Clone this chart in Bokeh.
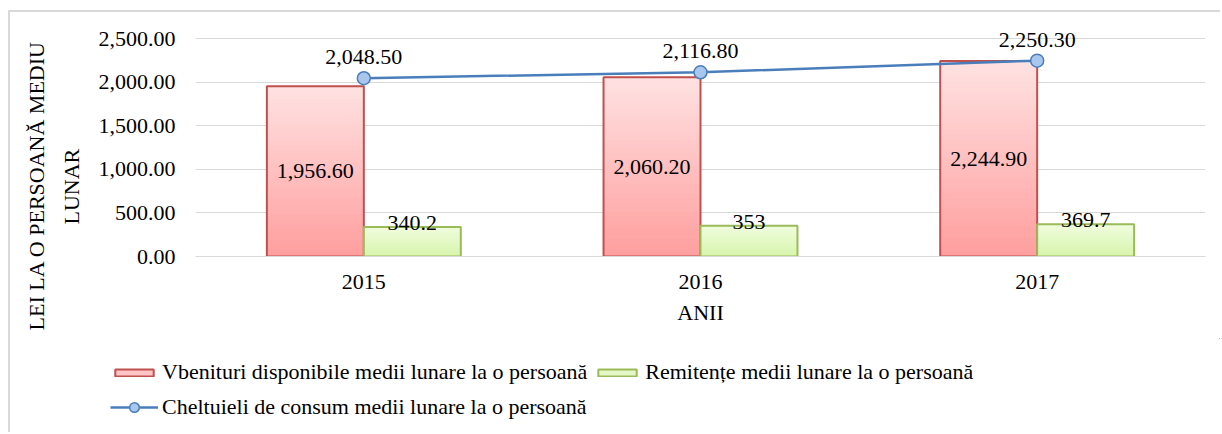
import numpy as np
from bokeh.plotting import figure
from bokeh.layouts import column
from bokeh.models import (ColumnDataSource, NumeralTickFormatter, Legend, LegendItem,
                          FactorRange, FixedTicker, Range1d, Title)
from bokeh.transform import dodge
from bokeh.core.properties import value
from bokeh.embed import file_html
from bokeh.resources import INLINE

# ---- data ----
years = ["2015", "2016", "2017"]
venituri = [1956.6, 2060.2, 2244.9]
remitente = [340.2, 353.0, 369.7]
cheltuieli = [2048.5, 2116.8, 2250.3]
venituri_labels = ["1,956.60", "2,060.20", "2,244.90"]
remitente_labels = ["340.2", "353", "369.7"]
cheltuieli_labels = ["2,048.50", "2,116.80", "2,250.30"]
y_ticks = [0, 500, 1000, 1500, 2000, 2500]
series_names = ["Vbenituri disponibile medii lunare la o persoană",
                "Remitențe medii lunare la o persoană",
                "Cheltuieli de consum medii lunare la o persoană"]
y_title_lines = ["LEI LA O PERSOANĂ MEDIU", "LUNAR"]
x_title = "ANII"

FONT = "Liberation Serif"
FS = "22px"
BW = 0.288
RED_LINE, GREEN_LINE, BLUE_LINE = "#c0504d", "#9bbb59", "#4a7ebb"
RED_FILL, GREEN_FILL, BLUE_FILL = "#ffc4c4", "#e3f8c6", "#a9c6ec"

p = figure(x_range=FactorRange(factors=years, range_padding=0), y_range=Range1d(0, 2700),
           width=1210, height=326, output_backend="svg", toolbar_location=None,
           min_border_left=185, min_border_right=15, min_border_top=9, min_border_bottom=82)
p.outline_line_color = None
p.xgrid.grid_line_color = None
p.ygrid.grid_line_color = "#d9d9d9"
p.ygrid.grid_line_width = 1.2

p.yaxis.ticker = FixedTicker(ticks=y_ticks)
p.yaxis.formatter = NumeralTickFormatter(format="0,0.00")
p.yaxis.axis_line_color = None
p.yaxis.major_tick_line_color = None
p.yaxis.minor_tick_line_color = None
p.yaxis.major_tick_out = 0
p.yaxis.major_label_standoff = 20

p.xaxis.axis_line_color = "#d9d9d9"
p.xaxis.major_tick_line_color = None
p.xaxis.minor_tick_line_color = None
p.xaxis.major_tick_out = 0
p.xaxis.major_label_standoff = 18
p.xaxis.axis_label = x_title
p.xaxis.axis_label_standoff = 8
for ax in (p.xaxis[0], p.yaxis[0]):
    ax.major_label_text_font = FONT
    ax.major_label_text_font_size = FS
    ax.major_label_text_color = "black"
    ax.axis_label_text_font = FONT
    ax.axis_label_text_font_size = FS
    ax.axis_label_text_font_style = "normal"
    ax.axis_label_text_color = "black"

# y-axis title: two rotated lines, both centred below the frame centre
for txt, so, off in ((y_title_lines[1], 23, 32), (y_title_lines[0], -6, -74)):
    p.add_layout(Title(text=txt, align="left", offset=off, standoff=so,
                       text_font=FONT, text_font_size=FS, text_font_style="normal",
                       text_color="black"), "left")


def lerp(c1, c2, t):
    return "#%02x%02x%02x" % tuple(int(round(a + (b - a) * t)) for a, b in zip(c1, c2))


def gradient_bars(vals, offset, c_bottom, c_top, line_color):
    src = ColumnDataSource(dict(x=years, top=vals))
    N = 40
    xs, tops, cols = [], [], []
    for k in reversed(range(N)):
        for yr, v in zip(years, vals):
            xs.append(yr)
            tops.append(v * (k + 1) / N)
            cols.append(lerp(c_bottom, c_top, (k + 0.5) / N))
    gsrc = ColumnDataSource(dict(x=xs, top=tops, color=cols))
    p.vbar(x=dodge("x", offset, range=p.x_range), top="top", bottom=0, width=BW,
           source=gsrc, fill_color="color", line_color=None)
    p.vbar(x=dodge("x", offset, range=p.x_range), top="top", bottom=0, width=BW, source=src,
           fill_alpha=0, line_color=line_color, line_width=2)


gradient_bars(venituri, -BW / 2, (255, 158, 158), (255, 226, 226), RED_LINE)
gradient_bars(remitente, BW / 2, (215, 245, 172), (240, 252, 222), GREEN_LINE)

lsrc = ColumnDataSource(dict(x=years, y=cheltuieli, lab=cheltuieli_labels))
p.line(x="x", y="y", source=lsrc, line_color=BLUE_LINE, line_width=2.5)
p.scatter(x="x", y="y", source=lsrc, size=13, fill_color=BLUE_FILL,
          line_color=BLUE_LINE, line_width=1.5)

# data labels
vsrc = ColumnDataSource(dict(x=years, y=[v / 2 for v in venituri], lab=venituri_labels))
p.text(x=dodge("x", -BW / 2, range=p.x_range), y="y", text="lab", source=vsrc,
       text_font=value(FONT), text_font_size=FS, text_align="center", text_baseline="middle",
       text_color="black")
rsrc = ColumnDataSource(dict(x=years, y=remitente, lab=remitente_labels))
p.text(x=dodge("x", BW / 2, range=p.x_range), y="y", text="lab", source=rsrc,
       text_font=value(FONT), text_font_size=FS, text_align="center", text_baseline="middle",
       y_offset=-4, text_color="black")
p.text(x="x", y="y", text="lab", source=lsrc,
       text_font=value(FONT), text_font_size=FS, text_align="center", text_baseline="middle",
       y_offset=-21, text_color="black")

# ---- legend figure (proxy glyphs lie outside its visible range) ----
q = figure(width=1210, height=94, output_backend="svg", toolbar_location=None,
           x_range=Range1d(-2, -1), y_range=Range1d(-2, -1),
           min_border_left=0, min_border_right=0, min_border_top=0, min_border_bottom=0)
if "frame_align" in q.properties():
    q.frame_align = False
q.axis.visible = False
q.grid.visible = False
q.outline_line_color = None
idx = list(range(len(years)))
r_red = q.vbar(x=idx, top=venituri, bottom=venituri, width=0.3,
               fill_color=RED_FILL, line_color=RED_LINE, line_width=2)
r_green = q.vbar(x=idx, top=remitente, bottom=remitente, width=0.3,
                 fill_color=GREEN_FILL, line_color=GREEN_LINE, line_width=2)
r_line = q.line(x=idx, y=cheltuieli, line_color=BLUE_LINE, line_width=2.5)
r_pts = q.scatter(x=idx, y=cheltuieli, size=13, fill_color=BLUE_FILL,
                  line_color=BLUE_LINE, line_width=1.5)

common = dict(orientation="horizontal", glyph_width=48, label_standoff=4, spacing=6,
              label_height=24, padding=0, margin=0,
              label_text_font=FONT, label_text_font_size=FS, label_text_color="black",
              border_line_color=None, background_fill_alpha=0)
leg1 = Legend(items=[LegendItem(label=series_names[0], renderers=[r_red]),
                     LegendItem(label=series_names[1], renderers=[r_green])],
              location=(100, 47), glyph_height=9, **common)
leg2 = Legend(items=[LegendItem(label=series_names[2], renderers=[r_line, r_pts])],
              location=(100, 12), glyph_height=24, **common)
q.add_layout(leg1)
q.add_layout(leg2)

lay = column(p, q, spacing=0)
lay.styles = {"border-left": "2px solid #d9d9d9", "border-top": "2px solid #d9d9d9",
              "margin-left": "8px", "margin-top": "10px"}

open("out.html", "w").write(file_html(lay, INLINE))
